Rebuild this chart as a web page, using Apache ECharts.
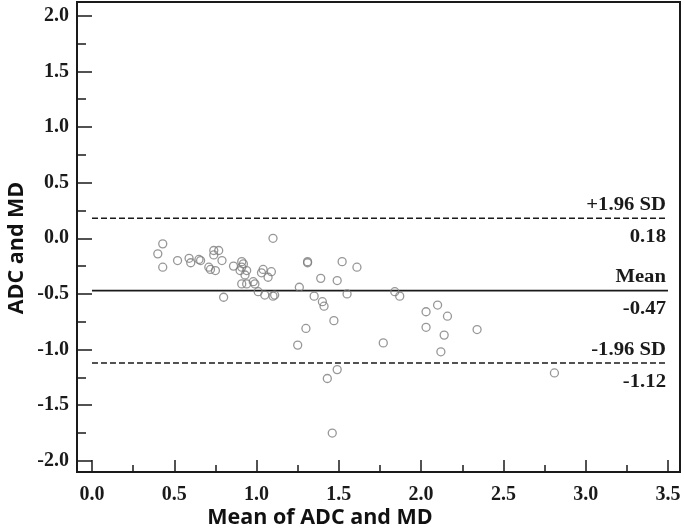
<!DOCTYPE html>
<html>
<head>
<meta charset="utf-8">
<script src="https://cdn.jsdelivr.net/npm/echarts@6/dist/echarts.min.js"></script>
<style>
html,body{margin:0;padding:0;background:#fff;}
#chart{width:685px;height:531px;}
</style>
</head>
<body>
<div id="chart"></div>
<script>
// Mean of ADC and MD (x) and difference (y)
const meanVals = [0.43,0.40,0.43,0.52,0.59,0.60,0.65,0.66,0.71,0.72,0.75,0.74,0.77,0.74,0.79,0.80,0.86,0.91,0.91,0.92,0.90,0.94,0.93,0.91,0.94,0.98,0.99,1.01,1.04,1.03,1.09,1.07,1.05,1.11,1.10,1.10,1.26,1.31,1.31,1.30,1.25,1.39,1.35,1.40,1.41,1.47,1.52,1.49,1.55,1.61,1.49,1.43,1.46,1.77,1.84,1.87,2.03,2.03,2.10,2.16,2.14,2.34,2.12,2.81];
const diffVals = [-0.05,-0.14,-0.26,-0.20,-0.18,-0.22,-0.19,-0.20,-0.26,-0.28,-0.29,-0.11,-0.11,-0.15,-0.20,-0.53,-0.25,-0.21,-0.26,-0.23,-0.29,-0.29,-0.33,-0.41,-0.41,-0.39,-0.41,-0.48,-0.28,-0.31,-0.30,-0.35,-0.51,-0.51,-0.52,0.00,-0.44,-0.21,-0.22,-0.81,-0.96,-0.36,-0.52,-0.57,-0.61,-0.74,-0.21,-0.38,-0.50,-0.26,-1.18,-1.26,-1.75,-0.94,-0.48,-0.52,-0.66,-0.80,-0.60,-0.70,-0.87,-0.82,-1.02,-1.21];
const upperLoA = 0.18;
const meanDiff = -0.47;
const lowerLoA = -1.12;
const lineStartX = 0.0;
const lineEndX = 3.5;
const xTicks = [0.0,0.5,1.0,1.5,2.0,2.5,3.0,3.5];
const xMinorTicks = [0.25,0.75,1.25,1.75,2.25,2.75,3.25];
const yTicks = [-2.0,-1.5,-1.0,-0.5,0.0,0.5,1.0,1.5,2.0];
const yMinorTicks = [-1.75,-1.25,-0.75,-0.25,0.25,0.75,1.25,1.75];
const xTitle = 'Mean of ADC and MD';
const yTitle = 'ADC and MD';

const chart = echarts.init(document.getElementById('chart'), null, {renderer:'canvas'});
const serif = '"Liberation Serif","Times New Roman",serif';
const labelStyle = {fontFamily: serif, fontWeight: 'bold', fontSize: 20, color: '#1a1a1a'};
const X_MIN = -0.091, X_MAX = 3.573, Y_MIN = -2.10, Y_MAX = 2.123;
const INK = '#1a1a1a';

const pts = meanVals.map((x,i)=>[x, diffVals[i]]);

function hLine(y, dashed){
  return {
    type:'line', data:[[lineStartX,y],[lineEndX,y]], symbol:'none', silent:true,
    xAxisIndex:0, yAxisIndex:0,
    lineStyle:{color:INK, width: dashed?1.6:1.8, type: dashed?[6,3]:'solid'},
    z:3
  };
}
function tickAxis(kind, values, len){
  return {
    type:'value', min: kind==='x'?X_MIN:Y_MIN, max: kind==='x'?X_MAX:Y_MAX,
    position: kind==='x'?'bottom':'left', gridIndex:0, offset:0,
    axisLine:{show:false, onZero:false}, axisLabel:{show:false}, splitLine:{show:false},
    axisTick:{show:true, inside:true, length:len, customValues:values, lineStyle:{color:INK, width:1.5}}
  };
}

const option = {
  animation:false,
  backgroundColor:'#fff',
  grid:{left:77, top:2, width:603, height:470, show:true, borderColor:INK, borderWidth:2, backgroundColor:'transparent'},
  xAxis:[{
    type:'value', min:X_MIN, max:X_MAX, position:'bottom',
    axisLine:{show:true, onZero:false, lineStyle:{color:INK, width:2}},
    axisTick:{show:false},
    axisLabel:{show:true, customValues:xTicks, formatter:v=>Number(v).toFixed(1), margin:13, ...labelStyle},
    splitLine:{show:false}
  }, tickAxis('x', xTicks, 12), tickAxis('x', xMinorTicks, 7)],
  yAxis:[{
    type:'value', min:Y_MIN, max:Y_MAX, position:'left',
    axisLine:{show:true, onZero:false, lineStyle:{color:INK, width:2}},
    axisTick:{show:false},
    axisLabel:{show:true, customValues:yTicks, formatter:v=>Number(v).toFixed(1), margin:8, ...labelStyle},
    splitLine:{show:false}
  }, tickAxis('y', yTicks, 15), tickAxis('y', yMinorTicks, 9)],
  series:[
    hLine(upperLoA,true), hLine(meanDiff,false), hLine(lowerLoA,true),
    {type:'scatter', data:pts, symbol:'circle', symbolSize:8, xAxisIndex:0, yAxisIndex:0,
     itemStyle:{color:'rgba(0,0,0,0)', borderColor:'#7d7d7d', borderWidth:1.3}, z:4}
  ]
};
chart.setOption(option);

// annotations and titles
const annoFont = 'bold 18px ' + serif;
function annot(text, yVal, above){
  const p = chart.convertToPixel({xAxisIndex:0, yAxisIndex:0}, [lineEndX, yVal]);
  return {type:'text', x:p[0]-2, y: above ? p[1]-13 : p[1]+19, scaleX:1.15, silent:true,
    style:{text:text, font:annoFont, fill:INK, align:'right', verticalAlign:'middle'}};
}
const titleFont = 'bold 21.5px "Open Sans", sans-serif';
const graphics = [
  annot('+1.96 SD', upperLoA, true), annot(upperLoA.toFixed(2), upperLoA, false),
  annot('Mean', meanDiff, true), annot(meanDiff.toFixed(2), meanDiff, false),
  annot('-1.96 SD', lowerLoA, true), annot(lowerLoA.toFixed(2), lowerLoA, false),
  {type:'text', x:320, y:518, silent:true,
   style:{text:xTitle, font:titleFont, fill:'#111', align:'center', verticalAlign:'middle'}},
  {type:'text', x:17, y:248, rotation:Math.PI/2, silent:true,
   style:{text:yTitle, font:titleFont, fill:'#111', align:'center', verticalAlign:'middle'}}
];
chart.setOption({graphic:graphics});
</script>
</body>
</html>
